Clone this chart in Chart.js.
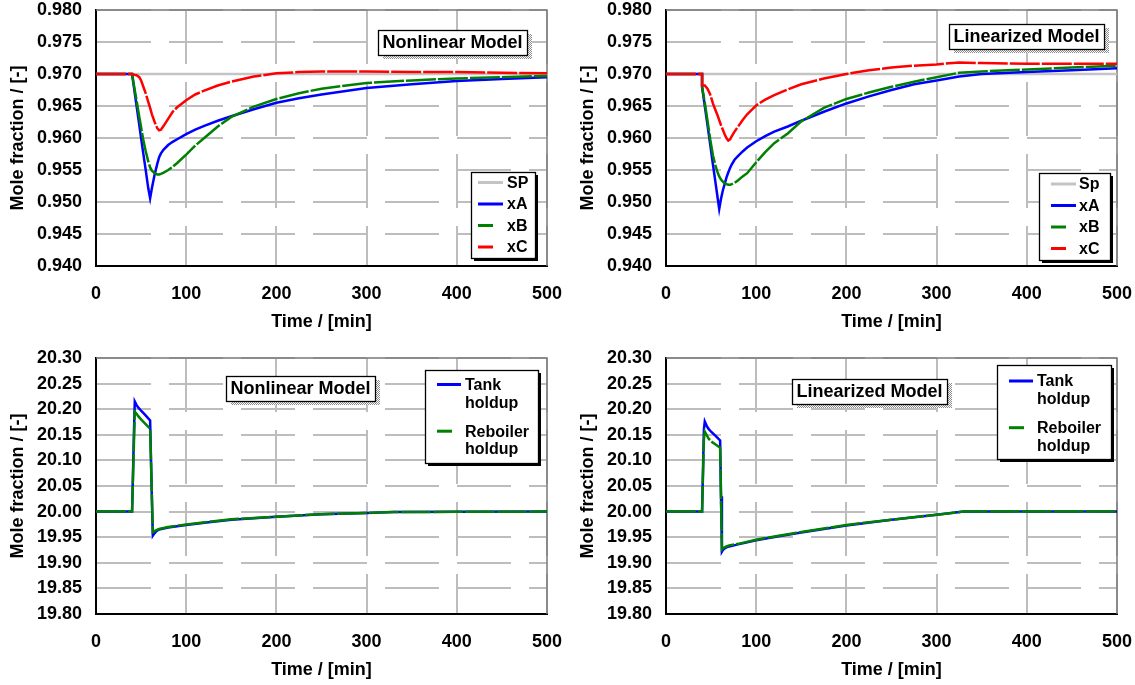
<!DOCTYPE html>
<html>
<head>
<meta charset="utf-8">
<script src="https://cdn.jsdelivr.net/npm/chart.js@4.4.0/dist/chart.umd.min.js"></script>
<style>
  html, body { margin: 0; padding: 0; background: #fff; overflow: hidden; }
  canvas { position: absolute; }
</style>
</head>
<body>
<canvas id="nlComp" width="565" height="340" style="left:0;top:0"></canvas>
<canvas id="linComp" width="565" height="340" style="left:570px;top:0"></canvas>
<canvas id="nlHold" width="565" height="340" style="left:0;top:348px"></canvas>
<canvas id="linHold" width="565" height="340" style="left:570px;top:348px"></canvas>
<script>
// ---- data (time in min) ----
const spTime = [0, 500];
const spValue = [0.970, 0.970];

// nonlinear model, compositions
const timeNL = [0, 40, 42, 45, 48, 50, 52, 55, 58, 60, 62, 65, 68, 70, 72, 75, 80, 85, 90, 100,
  110, 120, 135, 150, 175, 200, 225, 250, 300, 350, 400, 450, 500];
const xA_NL = [.9700, .9700, .9680, .9650, .9620, .9600, .9580, .9551, .9521, .9506,
  .9522, .9543, .9560, .9570, .9576, .9582, .9589, .9594, .9598, .9606,
  .9613, .9619, .9627, .9634, .9645, .9655, .9662, .9668, .9678, .9684, .9689, .9692, .9695];
const xB_NL = [.9700, .9700, .9683, .9658, .9633, .9617, .9600, .9580, .9563, .9554,
  .9549, .9545, .9543, .9543, .9544, .9546, .9550, .9555, .9561, .9574,
  .9588, .9600, .9618, .9633, .9649, .9661, .9670, .9677, .9686, .9690, .9693, .9695, .9697];
const xC_NL = [.9700, .9700, .9699, .9698, .9695, .9690, .9682, .9670, .9656, .9647,
  .9637, .9625, .9615, .9612, .9613, .9619, .9630, .9641, .9648, .9659,
  .9668, .9674, .9682, .9688, .9696, .9701, .9703, .9704, .9704, .9703, .9703, .9702, .9701];

// linearized model, compositions
const timeL = [0, 40, 40, 43, 46, 49, 52, 55, 57, 59, 61, 63, 65, 67, 69, 71, 73, 76, 80, 85,
  90, 100, 110, 120, 135, 150, 175, 200, 225, 250, 275, 300, 325, 350, 400, 450, 500];
const xA_L = [.9700, .9700, .9680, .9650, .9620, .9590, .9559, .9529, .9509, .9489,
  .9505, .9518, .9528, .9538, .9546, .9553, .9559, .9566, .9572, .9579,
  .9585, .9595, .9603, .9610, .9618, .9627, .9641, .9654, .9665, .9675,
  .9684, .9690, .9696, .9700, .9703, .9706, .9709];
const xB_L = [.9700, .9700, .9680, .9655, .9627, .9598, .9573, .9556, .9547, .9540,
  .9535, .9532, .9529, .9528, .9527, .9527, .9528, .9530, .9534, .9540,
  .9545, .9562, .9578, .9592, .9607, .9626, .9647, .9661, .9671, .9680,
  .9688, .9695, .9702, .9704, .9707, .9710, .9713];
const xC_L = [.9700, .9700, .9682, .9682, .9677, .9668, .9654, .9643, .9636, .9628,
  .9620, .9613, .9606, .9600, .9596, .9598, .9603, .9610, .9618, .9628,
  .9637, .9651, .9660, .9667, .9676, .9684, .9693, .9700, .9706, .9710,
  .9713, .9715, .9718, .9717, .9716, .9716, .9716];

// holdups, nonlinear model
const timeHN = [0, 40, 42, 43, 45, 47, 50, 55, 60, 62, 63, 65, 67, 70, 80, 100, 125, 150, 200, 250, 300, 330, 400, 500];
const tankNL = [20.000, 20.000, 20.150, 20.215, 20.208, 20.203, 20.197, 20.188, 20.178, 20.020,
  19.953, 19.958, 19.962, 19.965, 19.969, 19.974, 19.979, 19.984, 19.990, 19.995, 19.9975, 19.999, 19.9995, 20.000];
const rebNL = [20.000, 20.000, 20.130, 20.195, 20.191, 20.186, 20.180, 20.171, 20.162, 20.030,
  19.960, 19.962, 19.964, 19.966, 19.970, 19.975, 19.980, 19.985, 19.990, 19.995, 19.9975, 19.999, 19.9995, 20.000];

// holdups, linearized model
const timeHL = [0, 40, 42, 43, 45, 47, 50, 55, 60, 61, 62, 63, 65, 67, 70, 80, 100, 125, 150, 200, 250, 300, 330, 400, 500];
const tankL = [20.000, 20.000, 20.160, 20.176, 20.168, 20.162, 20.156, 20.148, 20.139, 20.030,
  19.922, 19.925, 19.928, 19.930, 19.932, 19.936, 19.944, 19.952, 19.959, 19.973, 19.984, 19.994, 20.000, 20.000, 20.000];
const rebL = [20.000, 20.000, 20.140, 20.156, 20.150, 20.143, 20.137, 20.131, 20.125, 20.025,
  19.926, 19.928, 19.930, 19.932, 19.934, 19.937, 19.945, 19.953, 19.960, 19.974, 19.984, 19.994, 20.000, 20.000, 20.000];

// ---- styling ----
const FONT = '"Liberation Sans", Arial, sans-serif';
const axisFont = { family: FONT, size: 18, weight: 'bold' };
const GRID = '#bdbdbd';

// dithered grey for the title box shadow
const ditherCanvas = document.createElement('canvas');
ditherCanvas.width = 2; ditherCanvas.height = 2;
(function () {
  const g = ditherCanvas.getContext('2d');
  g.fillStyle = '#fff'; g.fillRect(0, 0, 2, 2);
  g.fillStyle = '#8c8c8c'; g.fillRect(0, 0, 1, 1); g.fillRect(1, 1, 1, 1);
})();

const framePlugin = {
  id: 'frame',
  beforeDatasetsDraw(chart) {
    const { ctx, chartArea: a } = chart;
    ctx.save();
    ctx.strokeStyle = '#7a7a7a';
    ctx.lineWidth = 1.5;
    ctx.beginPath();
    ctx.moveTo(a.left, a.top);
    ctx.lineTo(a.right, a.top);
    ctx.lineTo(a.right, a.bottom);
    ctx.stroke();
    ctx.restore();
  }
};

const boxesPlugin = {
  id: 'boxes',
  afterDraw(chart, args, opts) {
    const ctx = chart.ctx;
    ctx.save();
    // title box
    const tb = opts.title;
    ctx.font = 'bold 18px ' + FONT;
    const w = ctx.measureText(tb.text).width + 9, h = 25;
    ctx.fillStyle = ctx.createPattern(ditherCanvas, 'repeat');
    ctx.fillRect(tb.x + 5, tb.y + 4, w, h);
    ctx.fillStyle = '#fff';
    ctx.fillRect(tb.x, tb.y, w, h);
    ctx.strokeStyle = '#000';
    ctx.lineWidth = 1.3;
    ctx.strokeRect(tb.x + 0.5, tb.y + 0.5, w, h);
    ctx.fillStyle = '#000';
    ctx.textAlign = 'center';
    ctx.textBaseline = 'middle';
    ctx.fillText(tb.text, tb.x + w / 2, tb.y + h / 2 + 1);

    // legend box
    const lg = opts.legend;
    ctx.fillStyle = '#000';
    ctx.fillRect(lg.x + 3, lg.y + 3, lg.w, lg.h);
    ctx.fillStyle = '#fff';
    ctx.fillRect(lg.x, lg.y, lg.w, lg.h);
    ctx.lineWidth = 1.3;
    ctx.strokeStyle = '#000';
    ctx.strokeRect(lg.x + 0.5, lg.y + 0.5, lg.w, lg.h);
    ctx.font = 'bold 16px ' + FONT;
    ctx.textAlign = 'left';
    chart.data.datasets.forEach((ds, i) => {
      const y = lg.y + lg.first + i * lg.gap;
      const len = ds.borderDash.length ? lg.dashLen : lg.lineLen;
      ctx.strokeStyle = ds.borderColor;
      ctx.lineWidth = 3;
      ctx.beginPath();
      ctx.moveTo(lg.x + lg.sx, y);
      ctx.lineTo(lg.x + lg.sx + len, y);
      ctx.stroke();
      ctx.fillStyle = '#000';
      const lines = lg.wrap ? ds.label.split(' ') : [ds.label];
      lines.forEach((ln, j) => ctx.fillText(ln, lg.x + lg.tx, y + 1 + j * 17.6));
    });
    ctx.restore();
  }
};

function series(label, t, v, color, width, dash, order) {
  return {
    label: label,
    data: t.map((x, i) => ({ x: x, y: v[i] })),
    borderColor: color,
    borderWidth: width,
    borderDash: dash,
    pointRadius: 0,
    tension: 0,
    fill: false,
    order: order
  };
}

function makeChart(id, datasets, yMin, yMax, yStep, dec, boxes) {
  return new Chart(document.getElementById(id), {
    type: 'line',
    data: { datasets: datasets },
    options: {
      responsive: false,
      animation: false,
      layout: { padding: { top: 10, right: 18, left: 0, bottom: 0 } },
      plugins: {
        legend: { display: false },
        tooltip: { enabled: false },
        boxes: boxes
      },
      scales: {
        x: {
          type: 'linear', min: 0, max: 500,
          ticks: { stepSize: 100, font: axisFont, color: '#000', padding: 17, maxRotation: 0, autoSkip: false },
          grid: { color: GRID, lineWidth: 2, drawTicks: false },
          border: { color: '#000', width: 2, dash: [54, 18] },
          title: { display: true, text: 'Time / [min]', font: axisFont, color: '#000', padding: { top: 0, bottom: 7 } },
          afterFit: s => { s.height = 74; s.paddingLeft = 0; s.paddingRight = 0; }
        },
        y: {
          type: 'linear', min: yMin, max: yMax,
          ticks: { stepSize: yStep, font: axisFont, color: '#000', padding: 14, autoSkip: false, callback: v => v.toFixed(dec) },
          grid: { color: GRID, lineWidth: 2, drawTicks: false },
          border: { color: '#000', width: 2, dash: [54, 18] },
          title: { display: true, text: 'Mole fraction / [-]', font: axisFont, color: '#000', padding: { top: 7, bottom: 0 } },
          afterFit: s => { s.width = 96; s.paddingTop = 0; s.paddingBottom = 0; }
        }
      }
    },
    plugins: [framePlugin, boxesPlugin]
  });
}

const BLUE = '#0000ff', GREEN = '#008000', RED = '#ff0000', SPGREY = '#c4c4c4';
const DASH = [30, 2];

makeChart('nlComp', [
  series('SP', spTime, spValue, SPGREY, 2.5, [], 4),
  series('xA', timeNL, xA_NL, BLUE, 2.5, [], 3),
  series('xB', timeNL, xB_NL, GREEN, 2.5, DASH, 2),
  series('xC', timeNL, xC_NL, RED, 2.5, DASH, 1)
], 0.94, 0.98, 0.005, 3, {
  title: { text: 'Nonlinear Model', x: 378, y: 30 },
  legend: { x: 471, y: 172, w: 64, h: 86, first: 10.5, gap: 21.5, sx: 7, lineLen: 25, dashLen: 15, tx: 36, wrap: false }
});

makeChart('linComp', [
  series('Sp', spTime, spValue, SPGREY, 2.5, [], 4),
  series('xA', timeL, xA_L, BLUE, 2.5, [], 3),
  series('xB', timeL, xB_L, GREEN, 2.5, DASH, 2),
  series('xC', timeL, xC_L, RED, 2.5, DASH, 1)
], 0.94, 0.98, 0.005, 3, {
  title: { text: 'Linearized Model', x: 379, y: 24 },
  legend: { x: 469, y: 173, w: 71, h: 87, first: 11, gap: 21.5, sx: 12, lineLen: 25, dashLen: 15, tx: 40, wrap: false }
});

makeChart('nlHold', [
  series('Tank holdup', timeHN, tankNL, BLUE, 2.5, [], 2),
  series('Reboiler holdup', timeHN, rebNL, GREEN, 2.5, DASH, 1)
], 19.8, 20.3, 0.05, 2, {
  title: { text: 'Nonlinear Model', x: 226, y: 28 },
  legend: { x: 425, y: 22, w: 113, h: 93, first: 14.5, gap: 46.7, sx: 12, lineLen: 24, dashLen: 15, tx: 40, wrap: true }
});

makeChart('linHold', [
  series('Tank holdup', timeHL, tankL, BLUE, 2.5, [], 2),
  series('Reboiler holdup', timeHL, rebL, GREEN, 2.5, DASH, 1)
], 19.8, 20.3, 0.05, 2, {
  title: { text: 'Linearized Model', x: 222, y: 31 },
  legend: { x: 427, y: 17, w: 114, h: 94, first: 16, gap: 46.7, sx: 12, lineLen: 24, dashLen: 15, tx: 40, wrap: true }
});
</script>
</body>
</html>
